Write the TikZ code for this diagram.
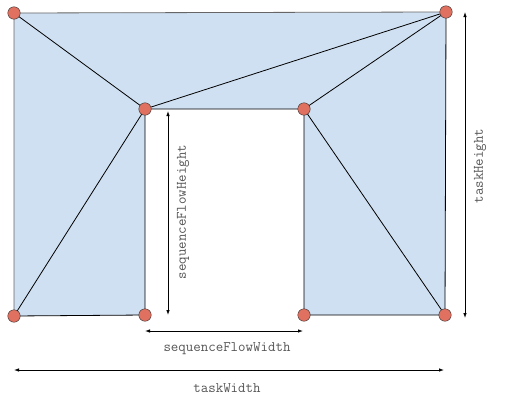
\documentclass[tikz,border=0pt]{standalone}
\usepackage{xcolor}
\usetikzlibrary{arrows.meta, positioning, calc}

\definecolor{shapeblue}{RGB}{207,224,242}
\definecolor{pointred}{RGB}{224,112,96}
\definecolor{labelgray}{RGB}{85,85,85}

\begin{document}
\begin{tikzpicture}[
    x=1pt, y=-1pt,
    vtx/.style={circle, draw=black!80, fill=pointred, inner sep=0pt, minimum size=12.5pt},
    seg/.style={draw=black, line width=0.8pt},
    dimline/.style={{Latex[length=5pt,width=3.5pt]}-{Latex[length=5pt,width=3.5pt]}, line width=0.8pt},
    lbl/.style={font=\ttfamily\fontsize{14.5}{16}\selectfont, text=labelgray, inner sep=0pt}
]
    \useasboundingbox (0,0) rectangle (511,415);

    % corner points
    \coordinate (tl) at (14,13);
    \coordinate (tr) at (446,12);
    \coordinate (itl) at (145,109);
    \coordinate (itr) at (304,109);
    \coordinate (bl) at (14,316);
    \coordinate (ibl) at (145,315);
    \coordinate (ibr) at (304,315);
    \coordinate (br) at (445,315);

    % shape
    \fill[shapeblue] (tl) -- (tr) -- (br) -- (ibr) -- (itr) -- (itl) -- (ibl) -- (bl) -- cycle;
    \draw[seg, draw=black!60] (bl) -- (tl) -- (tr);
    \draw[seg] (tr) -- (br) -- (ibr) -- (itr) -- (itl) -- (ibl) -- (bl);

    % triangulation
    \draw[seg] (tl) -- (itl);
    \draw[seg] (itl) -- (tr);
    \draw[seg] (tr) -- (itr);
    \draw[seg] (itl) -- (bl);
    \draw[seg] (itr) -- (br);

    \foreach \p in {tl,tr,itl,itr,bl,ibl,ibr,br}
        \node[vtx] (v-\p) at (\p) {};

    % dimensions
    \coordinate (sfh-a) at (168,111);
    \coordinate (sfh-b) at (168,315);
    \draw[dimline] (sfh-a) -- (sfh-b);
    \node[lbl, rotate=90] (sfh) at (183,212) {sequenceFlowHeight};

    \coordinate (sfw-a) at (145,331);
    \coordinate (sfw-b) at (303,331);
    \draw[dimline] (sfw-a) -- (sfw-b);
    \node[lbl] (sfw) at (227,349) {sequenceFlowWidth};

    \coordinate (tw-a) at (14,370);
    \coordinate (tw-b) at (444,370);
    \draw[dimline] (tw-a) -- (tw-b);
    \node[lbl] (tw) at (227,388) {taskWidth};

    \coordinate (th-a) at (465,12);
    \coordinate (th-b) at (465,318);
    \draw[dimline] (th-a) -- (th-b);
    \node[lbl, rotate=90] (th) at (480,166) {taskHeight};

\end{tikzpicture}
\end{document}
